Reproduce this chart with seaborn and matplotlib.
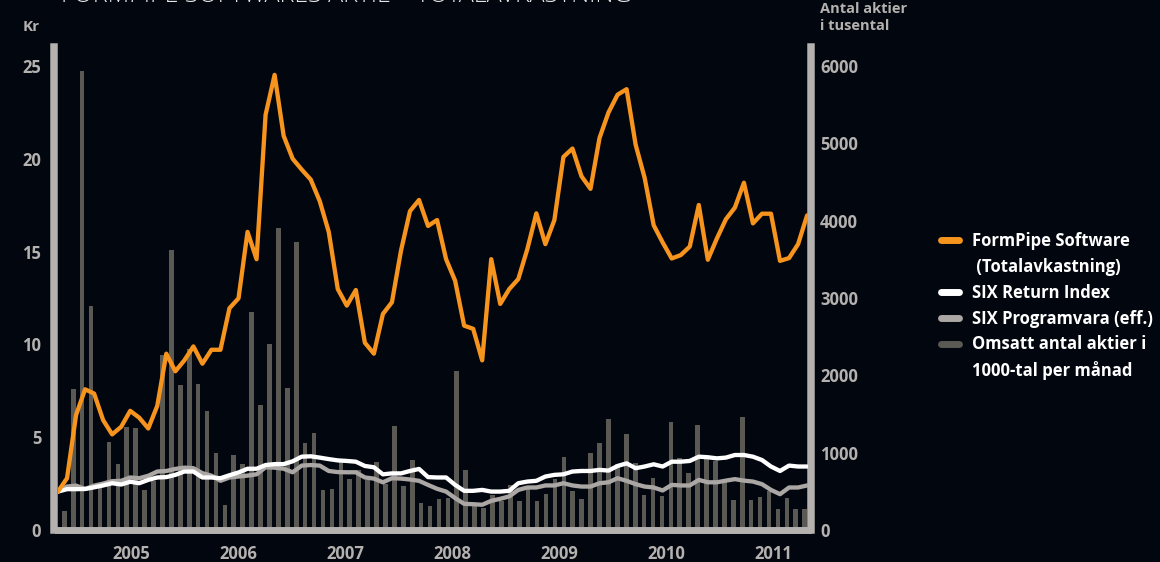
import numpy as np
import pandas as pd
import matplotlib.pyplot as plt
import seaborn as sns
from matplotlib.lines import Line2D

# månadsdata, maj 2004 - april 2011
months = np.arange(84)

# FormPipe Software (totalavkastning), kr
formpipe = [2.07, 2.79, 6.19, 7.58, 7.35, 5.92, 5.15, 5.56, 6.42, 6.05,
            5.47, 6.69, 9.50, 8.55, 9.14, 9.89, 8.96, 9.71, 9.71, 11.95,
            12.48, 16.06, 14.59, 22.37, 24.52, 21.24, 20.00, 19.42, 18.88, 17.72,
            16.06, 12.98, 12.09, 12.93, 10.09, 9.50, 11.64, 12.27, 15.04, 17.18,
            17.78, 16.38, 16.70, 14.59, 13.43, 11.01, 10.84, 9.14, 14.59, 12.18,
            12.98, 13.52, 15.13, 17.06, 15.40, 16.70, 20.10, 20.55, 19.06, 18.38,
            21.12, 22.50, 23.45, 23.75, 20.76, 18.97, 16.42, 15.49, 14.63, 14.81,
            15.27, 17.51, 14.56, 15.70, 16.74, 17.37, 18.71, 16.52, 17.04, 17.04,
            14.50, 14.65, 15.40, 16.95]

# SIX Return Index
six_return = [2.07, 2.20, 2.20, 2.21, 2.30, 2.40, 2.52, 2.45, 2.60, 2.52,
              2.70, 2.83, 2.85, 2.97, 3.15, 3.15, 2.83, 2.83, 2.79, 2.95,
              3.10, 3.30, 3.30, 3.50, 3.55, 3.55, 3.70, 3.95, 3.97, 3.90,
              3.82, 3.75, 3.72, 3.68, 3.45, 3.38, 3.00, 3.05, 3.05, 3.18,
              3.29, 2.85, 2.83, 2.83, 2.43, 2.11, 2.11, 2.16, 2.07, 2.07,
              2.11, 2.52, 2.61, 2.65, 2.88, 2.97, 3.00, 3.15, 3.18, 3.18,
              3.24, 3.20, 3.45, 3.59, 3.33, 3.42, 3.54, 3.42, 3.68, 3.68,
              3.72, 3.95, 3.92, 3.86, 3.90, 4.04, 4.04, 3.95, 3.77, 3.42,
              3.18, 3.47, 3.42, 3.42]

# SIX Programvara (eff.)
six_prog = [2.07, 2.34, 2.39, 2.21, 2.39, 2.50, 2.63, 2.65, 2.83, 2.79,
            2.92, 3.15, 3.18, 3.29, 3.36, 3.33, 3.06, 2.93, 2.65, 2.83,
            2.88, 2.93, 3.00, 3.38, 3.36, 3.30, 3.11, 3.47, 3.50, 3.47,
            3.18, 3.12, 3.11, 3.11, 2.83, 2.77, 2.57, 2.79, 2.77, 2.72,
            2.65, 2.43, 2.22, 2.07, 1.72, 1.41, 1.39, 1.36, 1.57, 1.68,
            1.81, 2.16, 2.29, 2.29, 2.40, 2.40, 2.52, 2.40, 2.34, 2.34,
            2.52, 2.57, 2.79, 2.65, 2.47, 2.34, 2.29, 2.13, 2.43, 2.40,
            2.40, 2.70, 2.57, 2.57, 2.66, 2.74, 2.66, 2.61, 2.47, 2.16,
            1.93, 2.29, 2.29, 2.40]

# omsatt antal aktier i 1000-tal per månad
volume = [249, 1828, 5935, 2901, 540, 1133, 850, 1326, 1313, 519,
          640, 2257, 3618, 1880, 2343, 1893, 1536, 991, 326, 970,
          850, 2824, 1622, 2408, 3910, 1837, 3730, 1120, 1249, 519,
          528, 884, 657, 777, 650, 880, 600, 1343, 568, 903,
          348, 310, 403, 412, 2062, 775, 309, 283, 455, 373,
          588, 377, 541, 377, 463, 657, 940, 504, 401, 991,
          1120, 1431, 850, 1236, 863, 451, 670, 438, 1400, 927,
          734, 1352, 927, 892, 650, 390, 1455, 390, 425, 505,
          270, 412, 270, 270]

years = ['2005', '2006', '2007', '2008', '2009', '2010', '2011']
year_pos = [7.5 + 12 * k for k in range(len(years))]

kr_ticks = [0, 5, 10, 15, 20, 25]
vol_ticks = [0, 1000, 2000, 3000, 4000, 5000, 6000]

bg = '#02060f'
c_orange = '#f7941d'
c_white = '#ffffff'
c_gray = '#aaa7a5'
c_bar = '#5a5954'
c_axis = '#b4b1af'

sns.set_theme(style='white', rc={'axes.facecolor': bg, 'figure.facecolor': bg})
plt.rcParams['font.family'] = ['Open Sans', 'DejaVu Sans']

W, H = 1160, 562
fig = plt.figure(figsize=(W / 100, H / 100), dpi=100)
rect = [58 / W, 32 / H, 750 / W, 482.6 / H]
ax_bar = fig.add_axes(rect)
ax = fig.add_axes(rect)
ax.set_facecolor('none')

# staplar (höger axel)
df_bar = pd.DataFrame({'m': months, 'vol': volume})
sns.barplot(data=df_bar, x='m', y='vol', native_scale=True, width=0.52,
            color=c_bar, saturation=1, errorbar=None, linewidth=0, ax=ax_bar)
ax_bar.set_xlim(-0.71, 83.37)
ax_bar.set_ylim(0, 6240)

# linjer (vänster axel)
df_lines = pd.DataFrame({
    'm': np.concatenate([months] * 3),
    'kr': six_prog + six_return + formpipe,
    'serie': ['SIX Programvara (eff.)'] * 84 + ['SIX Return Index'] * 84
             + ['FormPipe Software'] * 84,
})
palette = {'SIX Programvara (eff.)': c_gray, 'SIX Return Index': c_white,
           'FormPipe Software': c_orange}
sns.lineplot(data=df_lines, x='m', y='kr', hue='serie', palette=palette,
             linewidth=3.1, legend=False, ax=ax)
ax.set_xlim(0, 83.1)
ax.set_ylim(0, 26)

# axlar
for a in (ax, ax_bar):
    for s in a.spines.values():
        s.set_visible(False)
    a.set_xlabel('')
    a.set_ylabel('')

ax.spines['left'].set_visible(True)
ax.spines['left'].set_color(c_axis)
ax.spines['left'].set_linewidth(5.4)
ax.spines['left'].set_position(('outward', 2.6))
ax.set_xticks([])
ax.set_yticks(kr_ticks)
ax.set_yticklabels([str(t) for t in kr_ticks])
ax.tick_params(axis='y', length=0, pad=9.5, labelsize=12, labelcolor=c_axis)
for t in ax.get_yticklabels():
    t.set_fontweight('bold')

ax_bar.spines['bottom'].set_visible(True)
ax_bar.spines['bottom'].set_color(c_axis)
ax_bar.spines['bottom'].set_linewidth(5.0)
ax_bar.spines['right'].set_visible(True)
ax_bar.spines['right'].set_color(c_axis)
ax_bar.spines['right'].set_linewidth(5.4)
ax_bar.spines['right'].set_position(('outward', 2.2))
ax_bar.yaxis.tick_right()
ax_bar.set_yticks(vol_ticks)
ax_bar.set_yticklabels([str(t) for t in vol_ticks])
ax_bar.set_xticks(year_pos)
ax_bar.set_xticklabels(years)
ax_bar.tick_params(axis='y', length=0, pad=6.5, labelsize=12, labelcolor=c_axis)
ax_bar.tick_params(axis='x', length=0, pad=10.5, labelsize=12, labelcolor=c_axis)
for t in ax_bar.get_yticklabels() + ax_bar.get_xticklabels():
    t.set_fontweight('bold')

# texter (rubriken är avskuren upptill, som i originalet)
fig.text(61 / W, 1 - 1.8 / H, 'FORMPIPE SOFTWARES AKTIE – TOTALAVKASTNING',
         ha='left', va='baseline', fontsize=18, color='#e6e6e6', fontweight='light')
fig.text(23 / W, 1 - 27 / H, 'Kr', ha='left', va='center', fontsize=11,
         color=c_axis, fontweight='bold')
fig.text(820 / W, 1 - 2 / H, 'Antal aktier\ni tusental', ha='left', va='top',
         fontsize=10.5, color=c_axis, fontweight='bold', linespacing=1.25)

# teckenförklaring
handles = [
    Line2D([], [], color=c_orange, lw=5, solid_capstyle='round'),
    Line2D([], [], color='none'),
    Line2D([], [], color=c_white, lw=5, solid_capstyle='round'),
    Line2D([], [], color=c_gray, lw=5, solid_capstyle='round'),
    Line2D([], [], color=c_bar, lw=5, solid_capstyle='round'),
    Line2D([], [], color='none'),
]
labels = ['FormPipe Software', ' (Totalavkastning)', 'SIX Return Index',
          'SIX Programvara (eff.)', 'Omsatt antal aktier i', '1000-tal per månad']
leg = fig.legend(handles, labels, loc='upper left',
                 bbox_to_anchor=(941 / W, 1 - 232 / H), frameon=False,
                 borderpad=0, borderaxespad=0, handlelength=1.1,
                 handletextpad=0.75, labelspacing=0.47,
                 prop={'size': 12, 'weight': 'bold'})
for t in leg.get_texts():
    t.set_color('white')

fig.savefig('out.png', dpi=100, facecolor=bg)
